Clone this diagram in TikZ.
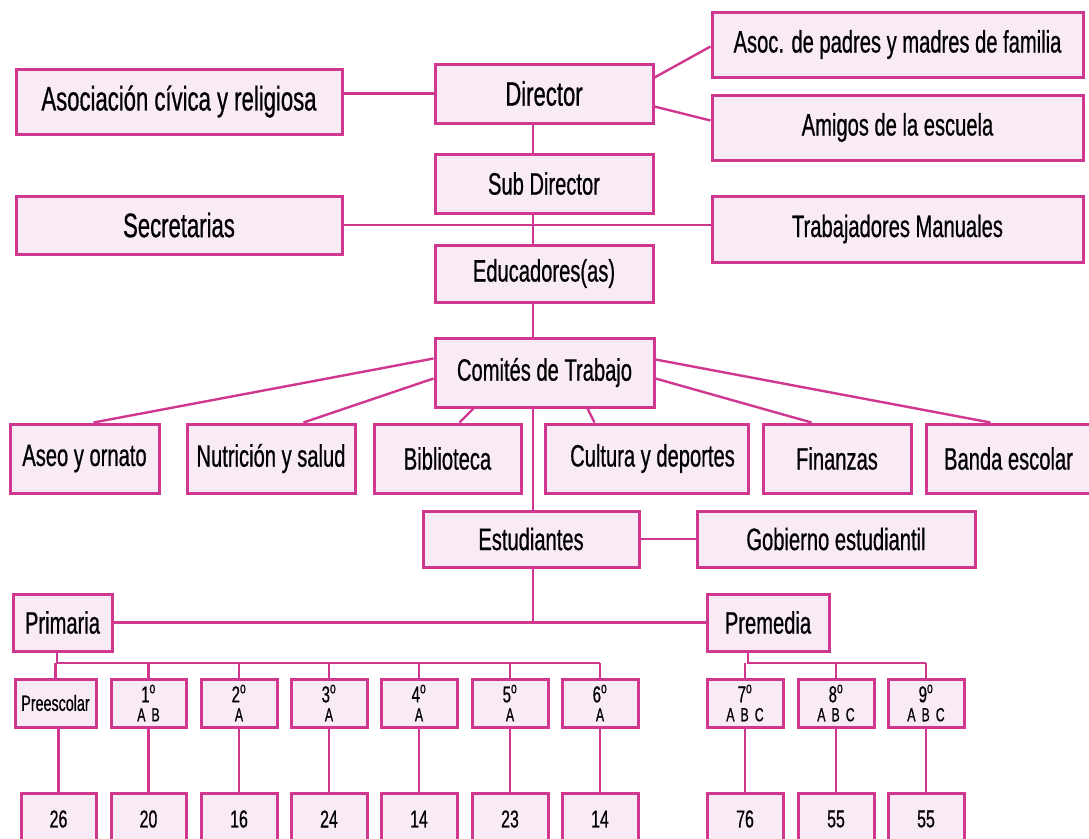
\documentclass[tikz,border=0pt]{standalone}
\usepackage{fontspec}
\setmainfont{Liberation Sans}[FakeStretch=0.65,FakeBold=0.6]
\usetikzlibrary{calc}
\definecolor{mag}{RGB}{208,56,144}
\definecolor{pinkfill}{RGB}{248,235,246}
\tikzset{
  box/.style={draw=mag, fill=pinkfill, line width=3pt, inner sep=0pt, align=center, text=black},
  conn/.style={draw=mag, line width=2.4pt},
  big/.style={font=\fontsize{34}{36}\selectfont},
  mid/.style={font=\fontsize{31}{33}\selectfont},
  grd/.style={font=\fontsize{23}{19}\selectfont},
  num/.style={font=\fontsize{24.5}{26}\selectfont},
}
\newcommand{\bx}[6]{% name, x1, y1, x2, y2, style, (text given after)
  \node[box,#6, minimum width={(#4)-(#2)}, minimum height={(#5)-(#3)}] (#1) at ({((#2)+(#4))/2},{((#3)+(#5))/2})}
\newcommand{\gr}[2]{#1\textsuperscript{o}\\{\fontsize{19}{19}\selectfont\spaceskip=6pt #2}}
\begin{document}
\begin{tikzpicture}[x=1pt,y=-1pt]
\useasboundingbox (0,0) rectangle (1089,838);
\clip (0,0) rectangle (1089,838);
% top level
\bx{dir}{435}{64}{653}{123}{big} {Director};
\bx{asoc}{16}{69}{342}{134}{big} {Asociación cívica y religiosa};
\bx{apf}{712}{12}{1083}{77}{mid} {Asoc. de padres y madres de familia};
\bx{ami}{712}{95}{1083}{160}{mid} {Amigos de la escuela};
\bx{sub}{435}{154}{653}{213}{mid} {Sub Director};
\bx{sec}{16}{196}{342}{254}{big} {Secretarias};
\bx{tra}{712}{196}{1083}{262}{mid} {Trabajadores Manuales};
\bx{edu}{435}{245}{653}{302}{mid} {Educadores(as)};
\bx{com}{435}{338}{654}{407}{mid} {Comités de Trabajo};
% committees
\bx{ase}{10}{424}{159}{493}{mid} {Aseo y ornato};
\bx{nut}{187}{424}{355}{493}{mid} {Nutrición y salud};
\bx{bib}{374}{424}{521}{493}{mid} {Biblioteca};
\bx{cul}{545}{424}{748}{493}{mid} {\hspace*{12pt}Cultura y deportes};
\bx{fin}{763}{424}{911}{493}{mid} {Finanzas};
\bx{ban}{926}{424}{1100}{493}{mid} {\hspace*{-9pt}Banda escolar};
% students
\bx{est}{423}{511}{639}{567}{mid} {Estudiantes};
\bx{gob}{697}{511}{975}{567}{mid} {Gobierno estudiantil};
\bx{pri}{13}{594}{112}{651}{mid} {Primaria};
\bx{pre}{707}{594}{829}{651}{mid} {Premedia};
% grades
\bx{g0}{15}{679}{96}{727}{font=\fontsize{22}{19}\selectfont} {Preescolar};
\bx{g1}{111}{679}{186}{727}{grd} {\gr{1}{A B}};
\bx{g2}{201}{679}{277}{727}{grd} {\gr{2}{A}};
\bx{g3}{291}{679}{367}{727}{grd} {\gr{3}{A}};
\bx{g4}{381}{679}{457}{727}{grd} {\gr{4}{A}};
\bx{g5}{472}{679}{548}{727}{grd} {\gr{5}{A}};
\bx{g6}{562}{679}{638}{727}{grd} {\gr{6}{A}};
\bx{g7}{707}{679}{783}{727}{grd} {\gr{7}{A B C}};
\bx{g8}{798}{679}{874}{727}{grd} {\gr{8}{A B C}};
\bx{g9}{888}{679}{964}{727}{grd} {\gr{9}{A B C}};
% numbers
\bx{n0}{21}{793}{96}{845}{num} {26};
\bx{n1}{111}{793}{186}{845}{num} {20};
\bx{n2}{201}{793}{277}{845}{num} {16};
\bx{n3}{291}{793}{367}{845}{num} {24};
\bx{n4}{381}{793}{457}{845}{num} {14};
\bx{n5}{472}{793}{548}{845}{num} {23};
\bx{n6}{562}{793}{638}{845}{num} {14};
\bx{n7}{707}{793}{783}{845}{num} {76};
\bx{n8}{798}{793}{874}{845}{num} {55};
\bx{n9}{888}{793}{964}{845}{num} {55};
% helper coordinates
\coordinate (spine) at (533,0);
\coordinate (sp) at (533,622);
\coordinate (bp) at (57,663);
\coordinate (bm) at (748,663);
% connectors
\begin{scope}[conn]
\draw (dir.west) -- (dir.west -| asoc.east);
\draw ([yshift=-15pt]dir.north east) -- ([yshift=-36pt]apf.north west);
\draw ([yshift=-44pt]dir.north east) -- ([yshift=-27pt]ami.north west);
\draw (dir.south -| spine) -- (sub.north -| spine);
\draw (sub.south -| spine) -- (edu.north -| spine);
\draw (sec.east) -- (sec.east -| tra.west);
\draw (edu.south -| spine) -- (com.north -| spine);
\draw (com.south -| spine) -- (est.north -| spine);
\draw ([yshift=-22pt]com.north west) -- ([xshift=85pt]ase.north west);
\draw ([yshift=-42pt]com.north west) -- ([xshift=118pt]nut.north west);
\draw ([xshift=40pt]com.south west) -- ([xshift=87pt]bib.north west);
\draw ([xshift=154pt]com.south west) -- ([xshift=51pt]cul.north west);
\draw ([yshift=-42pt]com.north east) -- ([xshift=50pt]fin.north west);
\draw ([yshift=-23pt]com.north east) -- ([xshift=66pt]ban.north west);
\draw (est.east) -- (gob.west);
\draw (est.south -| spine) -- (sp);
\draw (pri.east) -- (pre.west);
\draw (pri.south -| bp) -- (bp) -- (bp -| g6.north);
\foreach \g in {g0,g1,g2,g3,g4,g5,g6} \draw (bp -| \g.north) -- (\g.north);
\draw (pre.south -| bm) -- (bm) -- (bm -| g9.north);
\foreach \g in {g7,g8,g9} \draw (bm -| \g.north) -- (\g.north);
\draw (n0.north |- g0.south) -- (n0.north);
\foreach \i in {1,...,9} \draw (g\i.south) -- (n\i.north);
\end{scope}
\end{tikzpicture}
\end{document}
